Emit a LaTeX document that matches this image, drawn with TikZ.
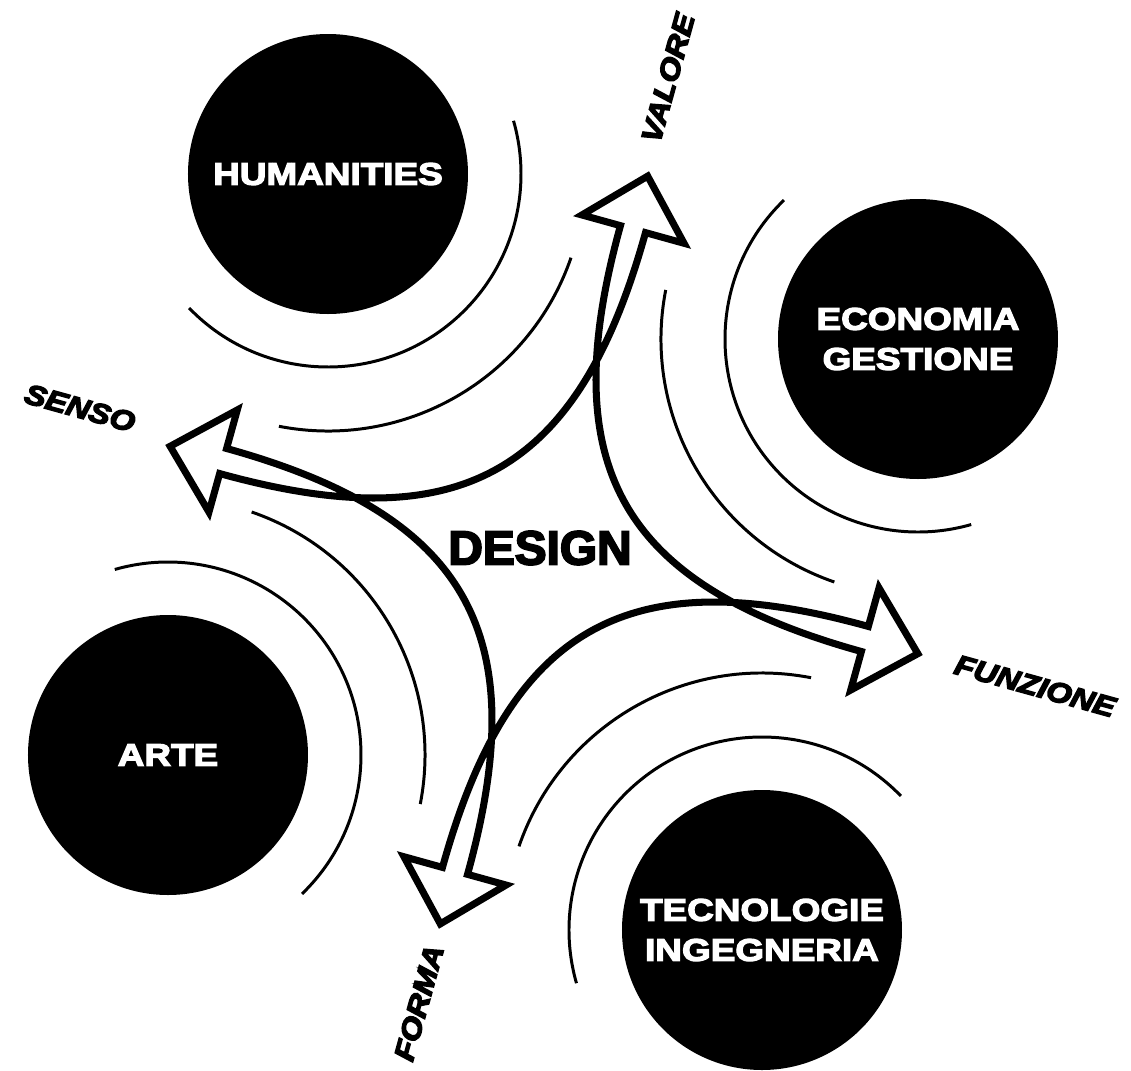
\documentclass[tikz,border=0pt]{standalone}
\usepackage{fontspec}
\setmainfont{Liberation Sans}
\newfontfamily\heavyfont[FakeBold=4]{Liberation Sans Bold}
\newfontfamily\widefont[FakeStretch=1.18, FakeBold=4]{Liberation Sans Bold}
\newfontfamily\slantfont[FakeStretch=1.15, FakeBold=5]{Liberation Sans Bold Italic}
\usepackage{tikz}

\begin{document}
\begin{tikzpicture}[
    disc/.style={circle, fill=black, minimum size=2.8cm, inner sep=0pt,
                 text=white, align=center,
                 font=\widefont\fontsize{8.9}{11.4}\selectfont},
    ring/.style={line width=0.85pt},
    shaft/.style={line width=2pt, line join=miter},
    axislabel/.style={inner sep=0pt,
                 font=\slantfont\fontsize{8}{9}\selectfont},
]
\useasboundingbox (-5.44,-5.20) rectangle (5.87,5.50);

\node[disc] (hum)  at (-2.16,3.76)  {HUMANITIES};
\node[disc] (eco)  at (3.74,2.11)   {ECONOMIA\\GESTIONE};
\node[disc] (tec)  at (2.18,-3.80)  {TECNOLOGIE\\INGEGNERIA};
\node[disc] (arte) at (-3.76,-2.05) {ARTE};

\foreach \c/\a in {hum/-60, eco/210, tec/120, arte/30} {
  \draw[ring] (\c.center) ++(\a-76:1.93)
      arc[start angle=\a-76, end angle=\a+76, radius=1.93];
  \draw[ring] (\c.center) ++(\a-41:2.57)
      arc[start angle=\a-41, end angle=\a+41, radius=2.57];
}

\node[font=\heavyfont\fontsize{13.6}{16}\selectfont] (design) at (-0.04,0.02) {DESIGN};

% arrow heads
\foreach \n/\p in {senso/164.5, valore/74.5, funzione/-15.5, forma/254.5} {
  \begin{scope}[shift={(\p:3.88)}, rotate=\p]
    \coordinate (\n-tip) at (0,0);
    \coordinate (\n-lb) at (-0.55,0.53);
    \coordinate (\n-rb) at (-0.55,-0.53);
    \coordinate (\n-l)  at (-0.55,0.13);
    \coordinate (\n-r)  at (-0.55,-0.13);
    \coordinate (\n-lc) at (-3.05,0.13);
    \coordinate (\n-rc) at (-3.05,-0.13);
  \end{scope}
}

\draw[shaft] (senso-l) .. controls (senso-lc) and (valore-rc) .. (valore-r)
    -- (valore-rb) -- (valore-tip) -- (valore-lb) -- (valore-l)
    .. controls (valore-lc) and (funzione-rc) .. (funzione-r)
    -- (funzione-rb) -- (funzione-tip) -- (funzione-lb) -- (funzione-l)
    .. controls (funzione-lc) and (forma-rc) .. (forma-r)
    -- (forma-rb) -- (forma-tip) -- (forma-lb) -- (forma-l)
    .. controls (forma-lc) and (senso-rc) .. (senso-r)
    -- (senso-rb) -- (senso-tip) -- (senso-lb) -- cycle;

\node[axislabel, rotate=-15.5] (senso)    at (-4.64,1.42)  {SENSO};
\node[axislabel, rotate=74.5]  (valore)   at (1.24,4.72)   {VALORE};
\node[axislabel, rotate=-15.5] (funzione) at (4.91,-1.36)  {FUNZIONE};
\node[axislabel, rotate=74.5]  (forma)    at (-1.25,-4.53) {FORMA};
\end{tikzpicture}
\end{document}
